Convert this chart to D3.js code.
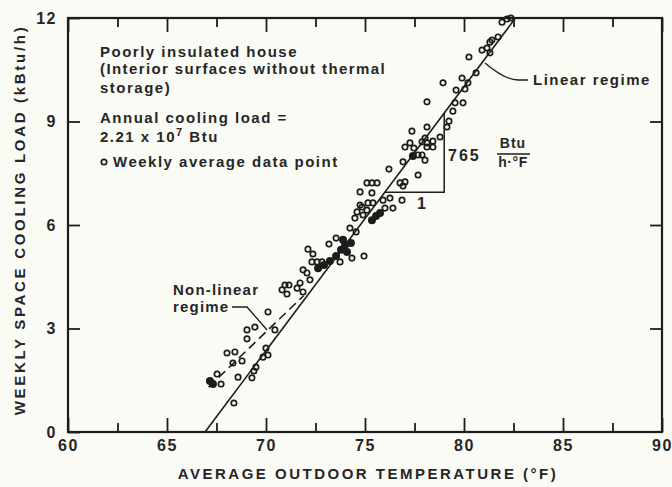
<!DOCTYPE html>
<html>
<head>
<meta charset="utf-8">
<script src="https://cdn.jsdelivr.net/npm/d3@7"></script>
<style>
  body { margin: 0; background: #fbfbf5; }
  svg { display: block; }
  text { font-family: "Liberation Sans", Arial, sans-serif; fill: #262626; font-weight: bold; }
</style>
</head>
<body>
<div class="canvas"></div>
<script>
// weekly average data points (open circles)
const tempF = [67.53, 67.73, 68.03, 68.43, 68.33, 68.79, 68.38, 68.59, 69.04, 69.44,
  69.04, 69.29, 69.39, 69.49, 69.85, 70.10, 70.00, 70.10, 70.45,
  70.81, 70.96, 71.06, 71.16, 71.57, 71.72, 71.87, 71.87, 72.07, 72.22,
  72.12, 72.37, 72.32, 72.58, 72.83, 73.18, 73.54, 73.74, 74.34, 74.95,
  74.24, 74.55, 74.60, 74.75, 75.15, 74.49, 74.90, 74.85, 75.10, 74.75,
  75.35, 75.40, 75.10, 75.35, 75.61, 75.91, 76.26, 76.01, 76.41, 76.87,
  76.21, 76.77, 77.02, 76.92, 77.68, 76.92, 77.27, 77.47, 77.68, 77.88,
  78.03, 77.88, 78.13, 77.02, 77.37, 78.03, 78.43, 78.79, 78.13, 78.43,
  78.13, 78.13, 79.14, 79.24, 79.44, 79.55, 79.95, 79.60, 80.05, 78.94,
  79.90, 80.20, 80.61, 80.25, 80.91, 81.16, 81.31, 81.31, 81.72, 81.41,
  81.92, 82.17, 82.37];
const loadK = [1.68, 1.39, 2.29, 2.32, 2.00, 2.06, 0.84, 1.59, 2.96, 3.04,
  2.70, 1.57, 1.77, 1.88, 2.17, 2.23, 2.43, 3.48, 2.96,
  4.12, 4.26, 4.00, 4.26, 4.17, 4.32, 4.06, 4.70, 4.61, 4.41,
  5.30, 5.16, 4.93, 4.93, 4.93, 5.45, 5.62, 4.93, 5.04, 5.10,
  5.91, 5.80, 6.38, 6.58, 6.64, 6.20, 6.29, 6.52, 6.43, 6.96,
  6.93, 6.64, 7.22, 7.22, 7.22, 6.72, 6.78, 6.49, 6.49, 6.72,
  7.62, 7.22, 7.25, 7.13, 7.45, 7.83, 8.38, 8.23, 8.03, 8.03,
  7.88, 8.41, 8.38, 8.26, 8.72, 8.52, 8.43, 8.55, 8.26, 8.26,
  8.84, 9.57, 8.84, 9.01, 9.30, 9.54, 9.54, 9.91, 9.94, 10.12,
  10.26, 10.12, 10.41, 10.87, 11.07, 11.13, 10.99, 11.30, 11.45, 11.36,
  11.88, 11.97, 12.00];

// dark clumps where points overlap
const denseTemp = [67.17, 67.32, 72.63, 72.93, 73.23, 73.54, 73.79, 73.99, 74.29, 74.09, 73.89, 75.35, 75.56, 75.76, 77.42];
const denseLoad = [1.48, 1.39, 4.75, 4.84, 4.96, 5.10, 5.28, 5.42, 5.48, 5.22, 5.57, 6.14, 6.26, 6.35, 8.00];

// fitted lines
const linearX = [66.92, 82.6];
const linearY = [0, 12];
const nonlinX = [67.1, 71.9];
const nonlinY = [1.3, 3.95];
const slope = 0.765;
const triX = [76, 79];

const xMajor = [60, 65, 70, 75, 80, 85, 90];
const xMinor = [62.5, 67.5, 72.5, 77.5, 82.5, 87.5];
const yTicks = [0, 3, 6, 9, 12];

const svg = d3.select('.canvas')
  .append('svg')
  .attr('width', 672)
  .attr('height', 487);

const x = d3.scaleLinear().domain([60, 90]).range([68, 662]);
const y = d3.scaleLinear().domain([0, 12]).range([432, 18]);

const ink = '#1c1c1c';
const fitY = t => slope * (t - linearX[0]);

// axes, ticks pointing inward
const styleAxis = g => {
  g.select('.domain').remove();
  g.selectAll('line').attr('stroke', ink).attr('stroke-width', 1.8);
  g.selectAll('text')
    .style('font-size', '16px')
    .style('font-weight', 'bold')
    .style('letter-spacing', '1.5px')
    .attr('fill', '#262626');
};

svg.append('g')
  .attr('transform', `translate(0,${y(0)})`)
  .call(d3.axisBottom(x).tickValues(xMajor).tickSize(-14).tickPadding(8))
  .call(styleAxis);
svg.append('g')
  .attr('transform', `translate(0,${y(0)})`)
  .call(d3.axisBottom(x).tickValues(xMinor).tickSize(-9).tickFormat(''))
  .call(styleAxis);
svg.append('g')
  .attr('transform', `translate(0,${y(12)})`)
  .call(d3.axisTop(x).tickValues(xMajor).tickSize(-14).tickFormat(''))
  .call(styleAxis);
svg.append('g')
  .attr('transform', `translate(0,${y(12)})`)
  .call(d3.axisTop(x).tickValues(xMinor).tickSize(-9).tickFormat(''))
  .call(styleAxis);
svg.append('g')
  .attr('transform', `translate(${x(60)},0)`)
  .call(d3.axisLeft(y).tickValues(yTicks).tickSize(-12).tickPadding(11))
  .call(styleAxis);
svg.append('g')
  .attr('transform', `translate(${x(90)},0)`)
  .call(d3.axisRight(y).tickValues([3, 6, 9]).tickSize(-12).tickFormat(''))
  .call(styleAxis);

// frame
svg.append('rect')
  .attr('x', x(60)).attr('y', y(12))
  .attr('width', x(90) - x(60)).attr('height', y(0) - y(12))
  .attr('fill', 'none').attr('stroke', ink).attr('stroke-width', 2.2);

// axis titles
svg.append('text')
  .attr('x', 368).attr('y', 479)
  .attr('text-anchor', 'middle')
  .style('font-size', '15px')
  .style('letter-spacing', '2.5px')
  .text('AVERAGE OUTDOOR TEMPERATURE (°F)');
svg.append('text')
  .attr('transform', 'translate(25,220) rotate(-90)')
  .attr('text-anchor', 'middle')
  .style('font-size', '15px')
  .style('letter-spacing', '2.7px')
  .text('WEEKLY SPACE COOLING LOAD (kBtu/h)');

// lines
const line = d3.line().x(d => x(d[0])).y(d => y(d[1]));
svg.append('path')
  .attr('d', line(d3.zip(linearX, linearY)))
  .attr('fill', 'none').attr('stroke', ink).attr('stroke-width', 1.6);
svg.append('path')
  .attr('d', line(d3.zip(nonlinX, nonlinY)))
  .attr('fill', 'none').attr('stroke', ink).attr('stroke-width', 1.6)
  .attr('stroke-dasharray', '9,5');

// slope triangle
svg.append('path')
  .attr('d', line([[triX[0], fitY(triX[0])], [triX[1], fitY(triX[0])], [triX[1], fitY(triX[1])]]))
  .attr('fill', 'none').attr('stroke', ink).attr('stroke-width', 1.5);

// data points
svg.append('g').selectAll('circle')
  .data(d3.zip(tempF, loadK))
  .enter().append('circle')
  .attr('cx', d => x(d[0]))
  .attr('cy', d => y(d[1]))
  .attr('r', 2.7)
  .attr('fill', 'none')
  .attr('stroke', ink)
  .attr('stroke-width', 1.7);
svg.append('g').selectAll('circle')
  .data(d3.zip(denseTemp, denseLoad))
  .enter().append('circle')
  .attr('cx', d => x(d[0]))
  .attr('cy', d => y(d[1]))
  .attr('r', 4)
  .attr('fill', ink);

// annotation text
const note = (tx, ty, s, size, ls) => svg.append('text')
  .attr('x', tx).attr('y', ty)
  .style('font-size', (size || 15) + 'px')
  .style('letter-spacing', (ls || 1.2) + 'px')
  .text(s);

note(100, 57, 'Poorly insulated house', 15, 1.5);
note(100, 74, '(Interior surfaces without thermal', 15, 1.4);
note(100, 93, 'storage)', 15, 1.5);
note(100, 123, 'Annual cooling load =', 15, 1.5);
const sci = note(100, 142, '2.21 x 10', 15, 1.5);
sci.append('tspan').attr('dy', -6).style('font-size', '11px').text('7');
sci.append('tspan').attr('dy', 6).text(' Btu');
svg.append('circle').attr('cx', 104).attr('cy', 162).attr('r', 2.7)
  .attr('fill', 'none').attr('stroke', ink).attr('stroke-width', 1.7);
note(113, 167, 'Weekly average data point', 15, 1.5);

note(533, 85, 'Linear regime', 15, 1.5);
svg.append('path')
  .attr('d', 'M485,63 Q505,80 518,80 L528,80')
  .attr('fill', 'none').attr('stroke', ink).attr('stroke-width', 1.3);

note(173, 295, 'Non-linear', 15, 1.2);
note(173, 312, 'regime', 15, 1.2);
svg.append('path')
  .attr('d', 'M232,307 L247,307 L267,330')
  .attr('fill', 'none').attr('stroke', ink).attr('stroke-width', 1.3);

note(448, 161, '765', 16, 2);
note(417, 209, '1', 16);
svg.append('text').attr('x', 513).attr('y', 148).attr('text-anchor', 'middle')
  .style('font-size', '14px').style('letter-spacing', '1px').text('Btu');
svg.append('line').attr('x1', 497).attr('x2', 530).attr('y1', 154).attr('y2', 154)
  .attr('stroke', ink).attr('stroke-width', 1.3);
svg.append('text').attr('x', 513).attr('y', 167).attr('text-anchor', 'middle')
  .style('font-size', '14px').style('letter-spacing', '0.5px').text('h·°F');
</script>
</body>
</html>
